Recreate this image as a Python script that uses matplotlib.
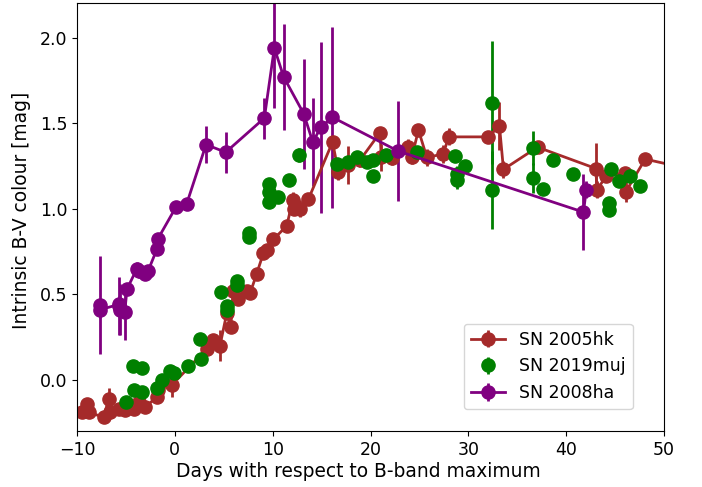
import numpy as np
import matplotlib
matplotlib.use("Agg")
import matplotlib.pyplot as plt

# SN 2005hk (B-V colour vs phase)
hk_t = [-9.49, -8.98, -8.80, -7.27, -6.76, -6.60, -5.74, -5.06, -4.20, -3.69,
        -3.02, -1.82, -1.72, -0.29, 3.26, 3.94, 4.62, 5.31, 5.72, 5.98,
        6.49, 7.35, 7.69, 8.37, 9.05, 9.46, 10.07, 11.44, 12.05, 12.15,
        12.80, 13.65, 16.12, 16.72, 17.74, 18.94, 20.98, 21.10, 22.18, 23.88,
        24.22, 24.90, 25.76, 27.45, 27.98, 32.06, 33.18, 33.59, 37.07, 43.04,
        43.14, 44.09, 46.03, 46.10, 48.08, 52.0]
hk_c = [-0.19, -0.14, -0.19, -0.22, -0.11, -0.19, -0.17, -0.18, -0.17, -0.13,
        -0.16, -0.10, -0.06, -0.03, 0.18, 0.23, 0.20, 0.39, 0.31, 0.52,
        0.47, 0.52, 0.505, 0.62, 0.74, 0.76, 0.82, 0.90, 1.05, 1.00,
        1.00, 1.055, 1.39, 1.215, 1.255, 1.285, 1.445, 1.30, 1.295, 1.36,
        1.30, 1.46, 1.30, 1.32, 1.42, 1.42, 1.485, 1.23, 1.36, 1.235,
        1.11, 1.19, 1.21, 1.10, 1.29, 1.24]
hk_e = [0.02, 0.02, 0.02, 0.02, 0.06, 0.02, 0.02, 0.02, 0.02, 0.02,
        0.02, 0.02, 0.02, 0.07, 0.03, 0.04, 0.09, 0.03, 0.03, 0.03,
        0.03, 0.03, 0.03, 0.03, 0.03, 0.03, 0.03, 0.03, 0.05, 0.03,
        0.05, 0.03, 0.03, 0.05, 0.11, 0.04, 0.03, 0.08, 0.04, 0.05,
        0.04, 0.03, 0.05, 0.05, 0.05, 0.02, 0.14, 0.05, 0.03, 0.15,
        0.05, 0.03, 0.03, 0.06, 0.03, 0.03]

# SN 2019muj
muj_t = [-4.96, -4.27, -3.35, -4.20, -3.35, -1.82, -1.31, -0.46, -0.11, 1.38,
         2.65, 2.58, 4.69, 5.31, 5.34, 6.39, 6.39, 7.62, 7.62, 9.66,
         9.66, 10.58, 9.66, 11.71, 12.73, 16.55, 17.74, 18.66, 19.62, 20.30,
         20.30, 21.60, 24.73, 28.65, 29.67, 28.82, 28.82, 32.46, 32.46, 36.59,
         36.59, 37.62, 38.64, 40.69, 44.33, 44.33, 44.60, 45.42, 46.54, 47.50]
muj_c = [-0.13, 0.08, 0.07, -0.06, -0.07, -0.05, 0.0, 0.05, 0.04, 0.08,
         0.12, 0.24, 0.515, 0.41, 0.43, 0.58, 0.555, 0.835, 0.86, 1.145,
         1.10, 1.07, 1.04, 1.165, 1.315, 1.26, 1.275, 1.305, 1.275, 1.285,
         1.19, 1.315, 1.33, 1.31, 1.25, 1.20, 1.165, 1.62, 1.11, 1.355,
         1.18, 1.115, 1.285, 1.20, 1.035, 0.99, 1.23, 1.16, 1.19, 1.13]
muj_e = [0.02, 0.02, 0.02, 0.02, 0.02, 0.02, 0.02, 0.02, 0.02, 0.02,
         0.02, 0.03, 0.02, 0.02, 0.02, 0.02, 0.02, 0.02, 0.02, 0.02,
         0.02, 0.02, 0.02, 0.02, 0.04, 0.02, 0.02, 0.02, 0.02, 0.02,
         0.02, 0.02, 0.02, 0.02, 0.02, 0.05, 0.05, 0.36, 0.23, 0.10,
         0.09, 0.03, 0.02, 0.03, 0.03, 0.03, 0.02, 0.02, 0.02, 0.02]

# SN 2008ha
ha_t = [-7.68, -7.60, -5.74, -5.74, -5.57, -5.12, -4.89, -3.87, -3.66, -3.05,
        -2.74, -1.82, -1.77, 0.12, 1.22, 3.19, 5.20, 9.15, 10.17, 11.13,
        13.18, 14.10, 14.92, 16.10, 22.82, 41.77, 42.05]
ha_c = [0.437, 0.41, 0.44, 0.43, 0.41, 0.395, 0.53, 0.65, 0.635, 0.62,
        0.635, 0.765, 0.82, 1.01, 1.03, 1.375, 1.33, 1.53, 1.94, 1.77,
        1.555, 1.39, 1.475, 1.535, 1.337, 0.98, 1.11]
ha_e = [0.285, 0.05, 0.05, 0.17, 0.15, 0.16, 0.03, 0.04, 0.04, 0.03,
        0.03, 0.03, 0.03, 0.02, 0.03, 0.11, 0.12, 0.12, 0.35, 0.31,
        0.32, 0.26, 0.5, 0.53, 0.29, 0.22, 0.05]

fig = plt.figure(figsize=(7.02, 4.87), dpi=100)
ax = fig.add_axes([77 / 702, 56 / 487, 587 / 702, 427.5 / 487])

ax.errorbar(hk_t, hk_c, yerr=hk_e, fmt='o-', color='brown', ms=9.5, lw=2,
            label='SN 2005hk')
ax.errorbar(muj_t, muj_c, yerr=muj_e, fmt='o', color='green', ms=9.5, lw=2,
            label='SN 2019muj')
ax.errorbar(ha_t, ha_c, yerr=ha_e, fmt='o-', color='purple', ms=9.5, lw=2,
            label='SN 2008ha')

ax.set_xlim(-10, 50)
ax.set_ylim(-0.3, 2.2)
ax.tick_params(labelsize=12.5)
ax.set_xlabel('Days with respect to B-band maximum', fontsize=13.4)
ax.set_ylabel('Intrinsic B-V colour [mag]', fontsize=13.4)
# labels sit a little off-centre in the original
ax.xaxis.set_label_coords(0.479, -0.072)
ax.yaxis.set_label_coords(-0.078, 0.517)
ax.legend(loc='lower left', bbox_to_anchor=(0.659, 0.0515), borderaxespad=0,
          fontsize=12.5)

fig.savefig('out.png', dpi=100)
